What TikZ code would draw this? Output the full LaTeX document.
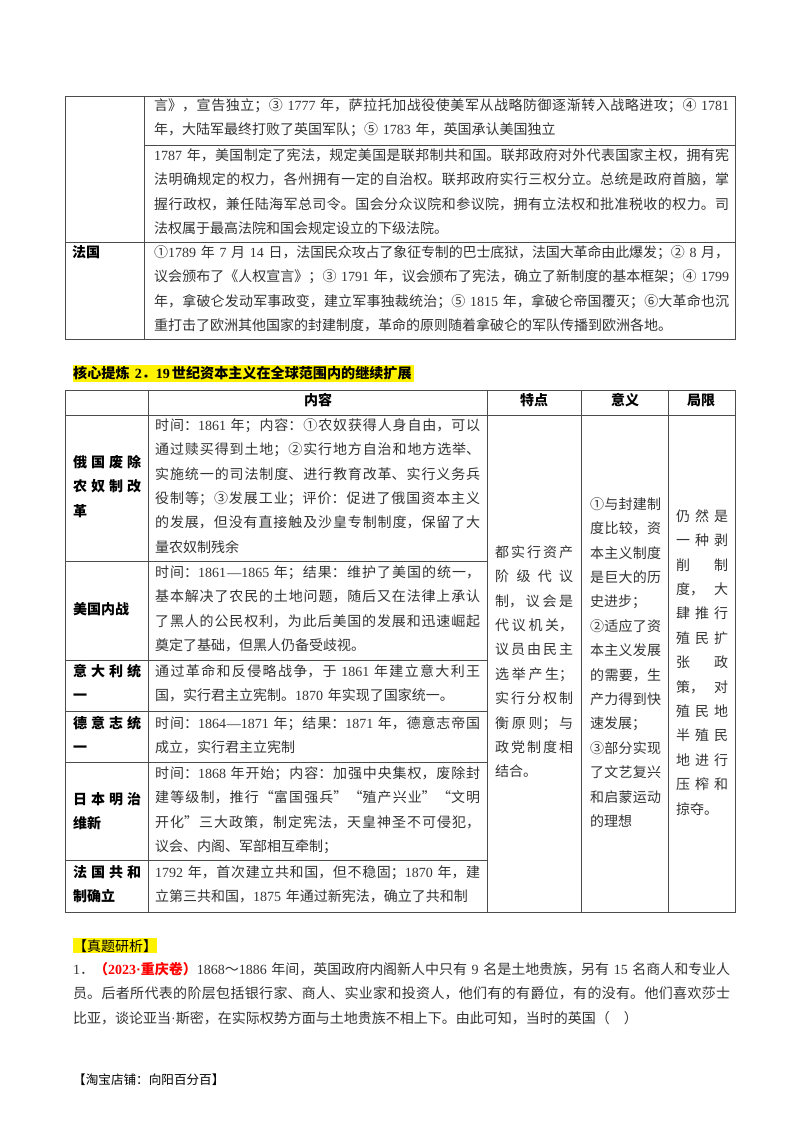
\documentclass[tikz,border=0pt]{standalone}
\usepackage{fontspec}
\setmainfont{Noto Sans CJK SC}
\newfontfamily\latinf[WordSpace=0.55]{Liberation Serif}
\XeTeXlinebreaklocale "zh"
\XeTeXlinebreakskip=0pt plus 1fil minus 0.5pt
\newcommand{\y}[1]{{\latinf #1}}
\newcommand{\jl}[1]{{\parfillskip=0pt\noindent\rule{0pt}{12pt}#1\par}}
\newcommand{\el}[1]{{\parfillskip=0pt plus 1fill\noindent\rule{0pt}{12pt}#1\par}}
\tikzset{
cell/.style={anchor=north west, inner sep=0pt, text=black!80, font=\fontsize{14}{24.4}\selectfont},
boldcell/.style={cell, text=black, font=\fontsize{14}{24.4}\selectfont\bfseries},
head/.style={anchor=center, inner sep=0pt, font=\fontsize{14}{17}\selectfont\bfseries},
rule/.style={black!70, line width=0.9pt}
}
\begin{document}
\begin{tikzpicture}[x=1pt,y=-1pt]
\useasboundingbox (0,0) rectangle (800,1132);
\fill[white] (0,0) rectangle (800,1132);
\draw[rule] (65,96) rectangle (735,339);
\draw[rule] (144,96) -- (144,339);
\draw[rule] (144,145) -- (735,145);
\draw[rule] (65,242) -- (735,242);
\node[cell, text width=575pt] (usaone) at (154,98) {\jl{言》，宣告独立；③\y{ 1777 }年，萨拉托加战役使美军从战略防御逐渐转入战略进攻；④\y{ 1781}}
\el{年，大陆军最终打败了英国军队；⑤\y{ 1783 }年，英国承认美国独立}};
\node[cell, text width=575pt] (usatwo) at (154,148) {\jl{\y{1787 }年，美国制定了宪法，规定美国是联邦制共和国。联邦政府对外代表国家主权，拥有宪}
\jl{法明确规定的权力，各州拥有一定的自治权。联邦政府实行三权分立。总统是政府首脑，掌}
\jl{握行政权，兼任陆海军总司令。国会分众议院和参议院，拥有立法权和批准税收的权力。司}
\el{法权属于最高法院和国会规定设立的下级法院。}};
\node[boldcell, text width=60pt] (france) at (72,245) {\el{法国}};
\node[cell, text width=575pt] (francetext) at (154,245) {\jl{①\y{1789 }年\y{ 7 }月\y{ 14 }日，法国民众攻占了象征专制的巴士底狱，法国大革命由此爆发；②\y{ 8 }月，}
\jl{议会颁布了《人权宣言》；③\y{ 1791 }年，议会颁布了宪法，确立了新制度的基本框架；④\y{ 1799}}
\jl{年，拿破仑发动军事政变，建立军事独裁统治；⑤\y{ 1815 }年，拿破仑帝国覆灭；⑥大革命也沉}
\el{重打击了欧洲其他国家的封建制度，革命的原则随着拿破仑的军队传播到欧洲各地。}};
\fill[yellow] (73,365) rectangle (414,382);
\node[anchor=base west, inner sep=0pt, font=\fontsize{14.1}{17}\selectfont\bfseries] (title) at (73,378) {核心提炼 \y{ 2}．\y{19 }世纪资本主义在全球范围内的继续扩展};
\draw[rule] (65,390) rectangle (735,912);
\draw[rule] (148,390) -- (148,912);
\draw[rule] (487,390) -- (487,912);
\draw[rule] (581,390) -- (581,912);
\draw[rule] (668,390) -- (668,912);
\draw[rule] (65,415) -- (735,415);
\draw[rule] (65,561) -- (487,561);
\draw[rule] (65,660) -- (487,660);
\draw[rule] (65,711) -- (487,711);
\draw[rule] (65,762) -- (487,762);
\draw[rule] (65,860) -- (487,860);
\node[head] (content) at (318,400) {内容};
\node[head] (feature) at (534,400) {特点};
\node[head] (meaning) at (625,400) {意义};
\node[head] (limit) at (701,400) {局限};
\node[boldcell, text width=68pt] (russia) at (73,455) {\jl{俄国废除}\jl{农奴制改}\el{革}};
\node[cell, text width=325pt] (russiatext) at (155,418) {\jl{时间：\y{1861 }年；内容：①农奴获得人身自由，可以}
\jl{通过赎买得到土地；②实行地方自治和地方选举、}
\jl{实施统一的司法制度、进行教育改革、实行义务兵}
\jl{役制等；③发展工业；评价：促进了俄国资本主义}
\jl{的发展，但没有直接触及沙皇专制制度，保留了大}
\el{量农奴制残余}};
\node[boldcell, text width=68pt] (america) at (73,602) {\el{美国内战}};
\node[cell, text width=325pt] (americatext) at (155,565) {\jl{时间：\y{1861—1865 }年；结果：维护了美国的统一，}
\jl{基本解决了农民的土地问题，随后又在法律上承认}
\jl{了黑人的公民权利，为此后美国的发展和迅速崛起}
\el{奠定了基础，但黑人仍备受歧视。}};
\node[boldcell, text width=68pt] (italy) at (73,664) {\jl{意大利统}\el{一}};
\node[cell, text width=325pt] (italytext) at (155,664) {\jl{通过革命和反侵略战争，于\y{ 1861 }年建立意大利王}
\el{国，实行君主立宪制。\y{1870 }年实现了国家统一。}};
\node[boldcell, text width=68pt] (germany) at (73,716) {\jl{德意志统}\el{一}};
\node[cell, text width=325pt] (germanytext) at (155,716) {\jl{时间：\y{1864—1871 }年；结果：\y{1871 }年，德意志帝国}
\el{成立，实行君主立宪制}};
\node[boldcell, text width=68pt] (japan) at (73,792) {\jl{日本明治}\el{维新}};
\node[cell, text width=325pt] (japantext) at (155,766) {\jl{时间：\y{1868 }年开始；内容：加强中央集权，废除封}
\jl{建等级制，推行“富国强兵”“殖产兴业”“文明}
\jl{开化”三大政策，制定宪法，天皇神圣不可侵犯，}
\el{议会、内阁、军部相互牵制；}};
\node[boldcell, text width=68pt] (frepublic) at (73,865) {\jl{法国共和}\el{制确立}};
\node[cell, text width=325pt] (frepublictext) at (155,865) {\jl{\y{1792 }年，首次建立共和国，但不稳固；\y{1870 }年，建}
\el{立第三共和国，\y{1875 }年通过新宪法，确立了共和制}};
\node[cell, text width=78pt] (featuretext) at (495,545) {\jl{都实行资产}\jl{阶级代议}\jl{制，议会是}\jl{代议机关，}\jl{议员由民主}\jl{选举产生；}\jl{实行分权制}\jl{衡原则；与}\jl{政党制度相}\el{结合。}};
\node[cell, text width=71pt] (meaningtext) at (590,497) {\jl{①与封建制}\jl{度比较，资}\jl{本主义制度}\jl{是巨大的历}\el{史进步；}\jl{②适应了资}\jl{本主义发展}\jl{的需要，生}\jl{产力得到快}\el{速发展；}\jl{③部分实现}\jl{了文艺复兴}\jl{和启蒙运动}\el{的理想}};
\node[cell, text width=52pt] (limittext) at (676,509) {\jl{仍然是}\jl{一种剥}\jl{削制}\jl{度，大}\jl{肆推行}\jl{殖民扩}\jl{张政}\jl{策，对}\jl{殖民地}\jl{半殖民}\jl{地进行}\jl{压榨和}\el{掠夺。}};
\fill[yellow] (73,938) rectangle (157,953);
\node[anchor=base west, inner sep=0pt, font=\fontsize{14}{17}\selectfont] (exam) at (73,951) {【真题研析】};
\node[cell, text width=657pt] (question) at (73,962) {\jl{\y{1}．{\color{red}\bfseries（\y{2023·}重庆卷）}\y{1868}～\y{1886 }年间，英国政府内阁新人中只有\y{ 9 }名是土地贵族，另有\y{ 15 }名商人和专业人}
\jl{员。后者所代表的阶层包括银行家、商人、实业家和投资人，他们有的有爵位，有的没有。他们喜欢莎士}
\el{比亚，谈论亚当\y{·}斯密，在实际权势方面与土地贵族不相上下。由此可知，当时的英国（\quad）}};
\node[anchor=base west, inner sep=0pt, font=\fontsize{12.6}{17}\selectfont] (shop) at (73,1084) {【淘宝店铺：向阳百分百】};
\end{tikzpicture}
\end{document}
